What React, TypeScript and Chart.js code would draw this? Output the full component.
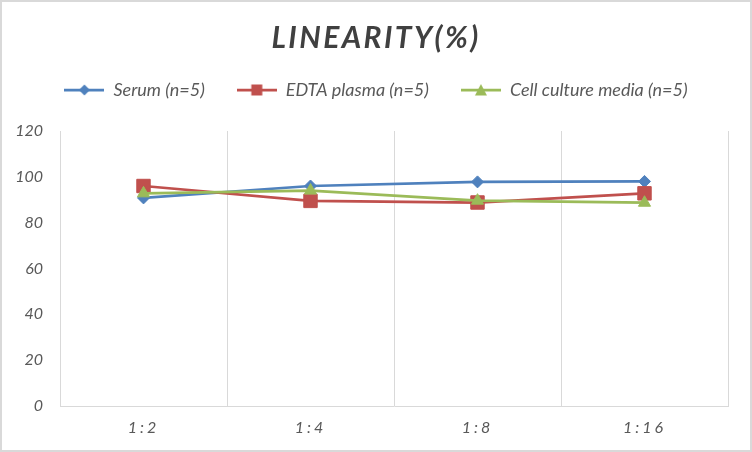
import React, { useEffect, useRef } from "react";
import { Chart, layouts, registerables } from "chart.js";

Chart.register(...registerables);

// values
const dilutions = ["1:2", "1:4", "1:8", "1:16"];
const serum = [90.8, 96, 97.8, 98];
const edtaPlasma = [96, 89.5, 88.8, 92.8];
const cellCultureMedia = [92.8, 94, 89.6, 88.7];
const seriesLabels = ["Serum (n=5)", "EDTA plasma (n=5)", "Cell culture media (n=5)"];
const yTicks = [0, 20, 40, 60, 80, 100, 120];

const colors = ["#4F81BD", "#C0504D", "#9BBB59"];
const markers = ["rectRot", "rect", "triangle"];
const markerSizes = [6, 9.5, 7];

const FONT = "Lato, 'Noto Sans', sans-serif";
const GRAY = "#595959";

// legend icon: a short line with the series marker in the middle
const makeLegendIcon = (color: string, style: string) => {
  const c = document.createElement("canvas");
  c.width = 40;
  c.height = 14;
  const ctx = c.getContext("2d");
  if (!ctx) return c;
  ctx.strokeStyle = color;
  ctx.fillStyle = color;
  ctx.lineWidth = 2.75;
  ctx.beginPath();
  ctx.moveTo(0, 7);
  ctx.lineTo(40, 7);
  ctx.stroke();
  ctx.beginPath();
  if (style === "rectRot") {
    ctx.moveTo(20, 1.5);
    ctx.lineTo(25.5, 7);
    ctx.lineTo(20, 12.5);
    ctx.lineTo(14.5, 7);
  } else if (style === "rect") {
    ctx.rect(14.5, 1.5, 11, 11);
  } else {
    ctx.moveTo(20, 1);
    ctx.lineTo(26, 12.5);
    ctx.lineTo(14, 12.5);
  }
  ctx.closePath();
  ctx.fill();
  return c;
};

// empty box between legend and plot so the plot starts lower
const legendGap = (height: number) => {
  const box: any = {
    position: "top",
    weight: 500,
    fullSize: true,
    options: {},
    width: 0,
    height: 0,
    isHorizontal: () => true,
    update(maxWidth: number) {
      box.width = maxWidth;
      box.height = height;
    },
    draw() {},
  };
  return {
    id: "legendGap",
    beforeInit(chart: any) {
      layouts.addBox(chart, box);
    },
    stop(chart: any) {
      layouts.removeBox(chart, box);
    },
  };
};

// the original text is letter-spaced (title and x labels)
const letterSpacing = {
  id: "letterSpacing",
  afterLayout(chart: any) {
    const wrap = (obj: any, key: string, spacing: string) => {
      if (!obj || obj["_spaced_" + key]) return;
      const orig = obj[key].bind(obj);
      obj[key] = (...args: any[]) => {
        const ctx = chart.ctx;
        ctx.save();
        ctx.letterSpacing = spacing;
        orig(...args);
        ctx.restore();
      };
      obj["_spaced_" + key] = true;
    };
    wrap(chart.titleBlock, "draw", "2.4px");
    wrap(chart.scales.x, "drawLabels", "3px");
  },
};

const LinearityChart = () => {
  const canvasRef = useRef<HTMLCanvasElement | null>(null);

  useEffect(() => {
    const canvas = canvasRef.current;
    if (!canvas) return;
    const icons = colors.map((c, i) => makeLegendIcon(c, markers[i]));
    const series = [serum, edtaPlasma, cellCultureMedia];

    const chart = new Chart(canvas, {
      type: "line",
      data: {
        labels: dilutions,
        datasets: series.map((values, i) => ({
          label: seriesLabels[i],
          data: values,
          borderColor: colors[i],
          backgroundColor: colors[i],
          borderWidth: 2.75,
          pointStyle: markers[i] as any,
          pointRadius: markerSizes[i],
          pointHoverRadius: markerSizes[i],
          pointBorderWidth: 1,
          tension: 0,
          // later series sit on top, like the original
          order: series.length - i,
        })),
      },
      plugins: [legendGap(22), letterSpacing],
      options: {
        responsive: false,
        animation: false,
        layout: { padding: 0 },
        plugins: {
          title: {
            display: true,
            text: "LINEARITY(%)",
            color: "#404040",
            font: { family: FONT, size: 30, weight: "bold", style: "italic", lineHeight: 22 / 30 },
            padding: { top: 27, bottom: 0 },
          },
          legend: {
            position: "top",
            labels: {
              usePointStyle: true,
              pointStyleWidth: 40,
              padding: 32,
              color: GRAY,
              font: { family: FONT, size: 18, style: "italic" },
              generateLabels: (c: Chart) =>
                c.data.datasets.map((ds: any, i: number) => ({
                  text: ds.label,
                  fillStyle: ds.borderColor,
                  strokeStyle: ds.borderColor,
                  lineWidth: 0,
                  pointStyle: icons[i],
                  datasetIndex: i,
                  hidden: false,
                  fontColor: GRAY,
                })),
            },
          },
          tooltip: { enabled: false },
        },
        scales: {
          x: {
            offset: true,
            grid: { color: "#d9d9d9", offset: true, drawTicks: false, lineWidth: 1 },
            border: { color: "#d9d9d9", width: 1 },
            ticks: { color: GRAY, padding: 12, font: { family: FONT, size: 16, style: "italic" } },
            afterFit: (s: any) => {
              s.height = 46;
              s.paddingRight = 24;
            },
          },
          y: {
            min: yTicks[0],
            max: yTicks[yTicks.length - 1],
            grid: { display: false, drawTicks: false },
            border: { display: false },
            ticks: {
              stepSize: yTicks[1] - yTicks[0],
              color: GRAY,
              padding: 17,
              font: { family: FONT, size: 16, style: "italic" },
            },
            afterFit: (s: any) => {
              s.width = 60;
            },
          },
        },
      },
    });

    return () => chart.destroy();
  }, []);

  return <canvas ref={canvasRef} width={752} height={452} style={{ width: 752, height: 452, display: "block" }} />;
};

export default function App() {
  return (
    <div style={{ position: "absolute", left: 0, top: 0, width: 752, height: 452, background: "#fff" }}>
      <LinearityChart />
      <div
        style={{
          position: "absolute",
          left: 0,
          top: 0,
          width: 752,
          height: 452,
          boxSizing: "border-box",
          border: "2px solid #d9d9d9",
          pointerEvents: "none",
        }}
      />
    </div>
  );
}
